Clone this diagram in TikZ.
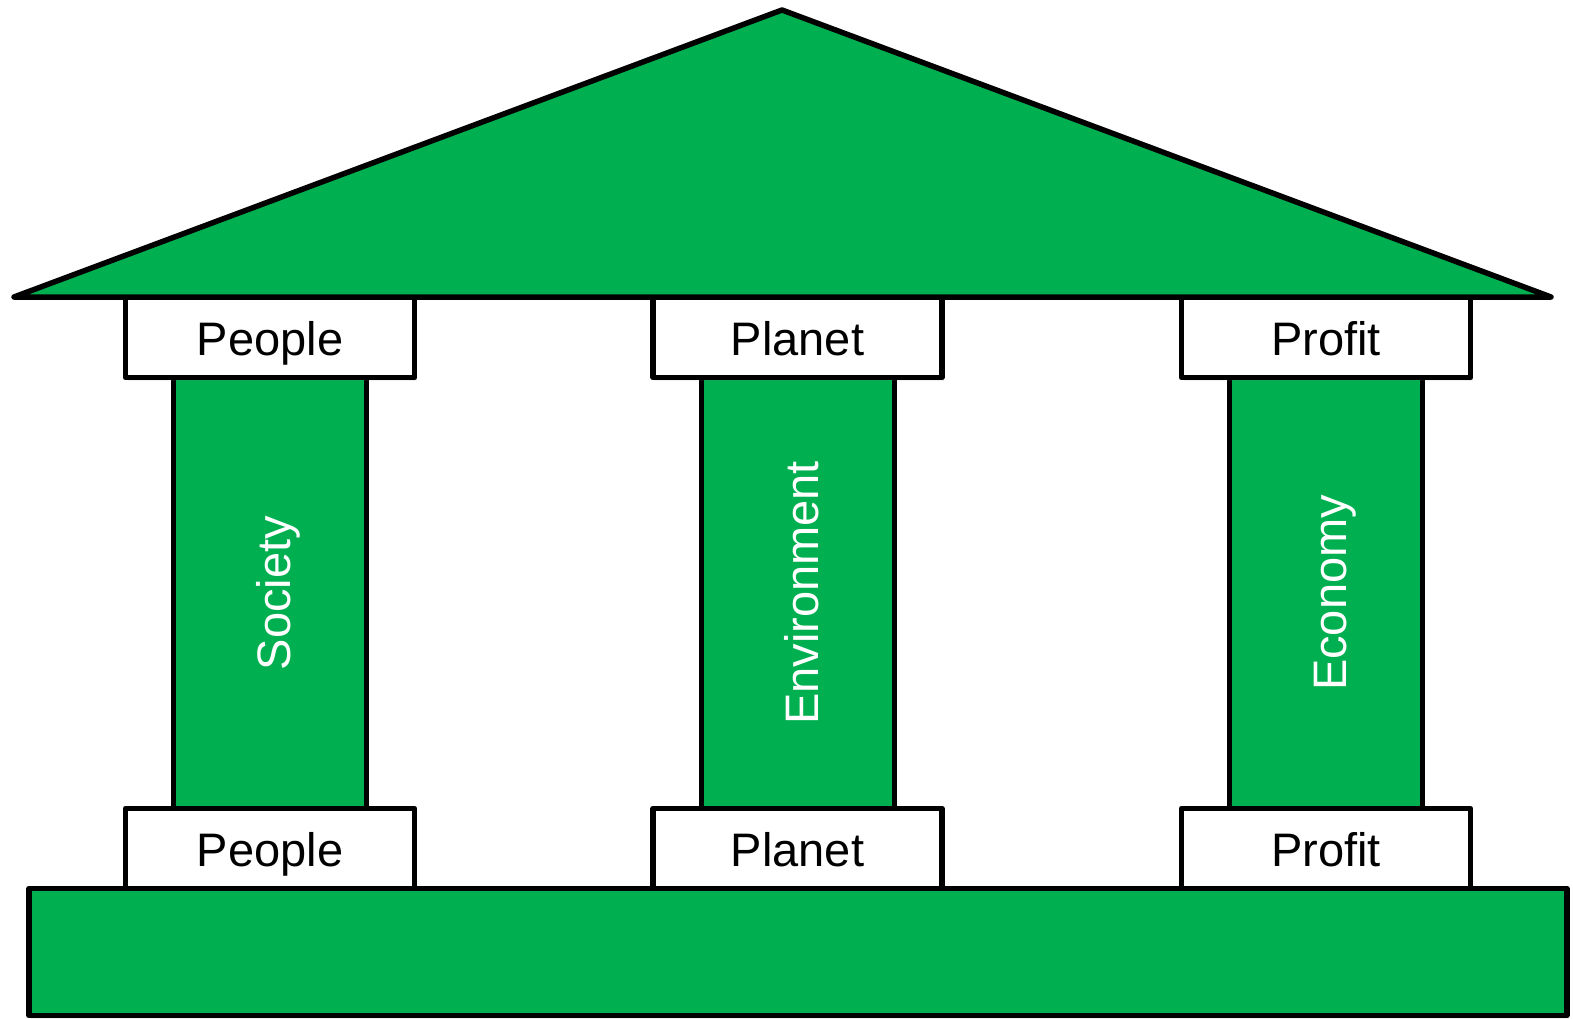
\documentclass[tikz,border=0pt]{standalone}
\usepackage{fontspec}
\setmainfont{Liberation Sans}
\usetikzlibrary{shadows}
\definecolor{pgreen}{HTML}{00B050}
\begin{document}
\begin{tikzpicture}[x=1pt,y=-1pt,
  outline/.style={draw=black,line width=5.5pt,line join=round,
    drop shadow={opacity=0.12,shadow xshift=2pt,shadow yshift=-3pt}},
  capbox/.style={outline,fill=white,rectangle,inner sep=0pt,minimum width=289pt,minimum height=80pt,
    text height=36pt,text depth=0pt,font=\fontsize{47}{56}\selectfont},
  pillar/.style={outline,fill=pgreen,rectangle,inner sep=0pt,minimum width=193pt,minimum height=432pt},
  ptext/.style={text=white,rotate=90,inner sep=0pt,text height=34pt,text depth=0pt,font=\fontsize{47}{56}\selectfont}]
\useasboundingbox (0,0) rectangle (1573,1018);
% roof
\draw[outline,fill=pgreen] (14,297) -- (782,10) -- (1551,297) -- cycle;
% pillars
\node[pillar] (c1) at (270,593) {};
\node[pillar] (c2) at (798,593) {};
\node[pillar] (c3) at (1326,593) {};
\node[ptext] (t1) at ([xshift=3pt]c1) {Society};
\node[ptext] (t2) at ([xshift=3pt]c2) {Environment};
\node[ptext] (t3) at ([xshift=3pt]c3) {Economy};
% top caps
\node[capbox] (a1) at (270,337.5) {People};
\node[capbox] (a2) at (797.5,337.5) {Planet};
\node[capbox] (a3) at (1326,337.5) {Profit};
% bottom caps
\node[capbox] (b1) at (270,848.5) {People};
\node[capbox] (b2) at (797.5,848.5) {Planet};
\node[capbox] (b3) at (1326,848.5) {Profit};
% base
\node[outline,fill=pgreen,rectangle,inner sep=0pt,minimum width=1538pt,minimum height=127pt] (base) at (798,952) {};
\end{tikzpicture}
\end{document}
